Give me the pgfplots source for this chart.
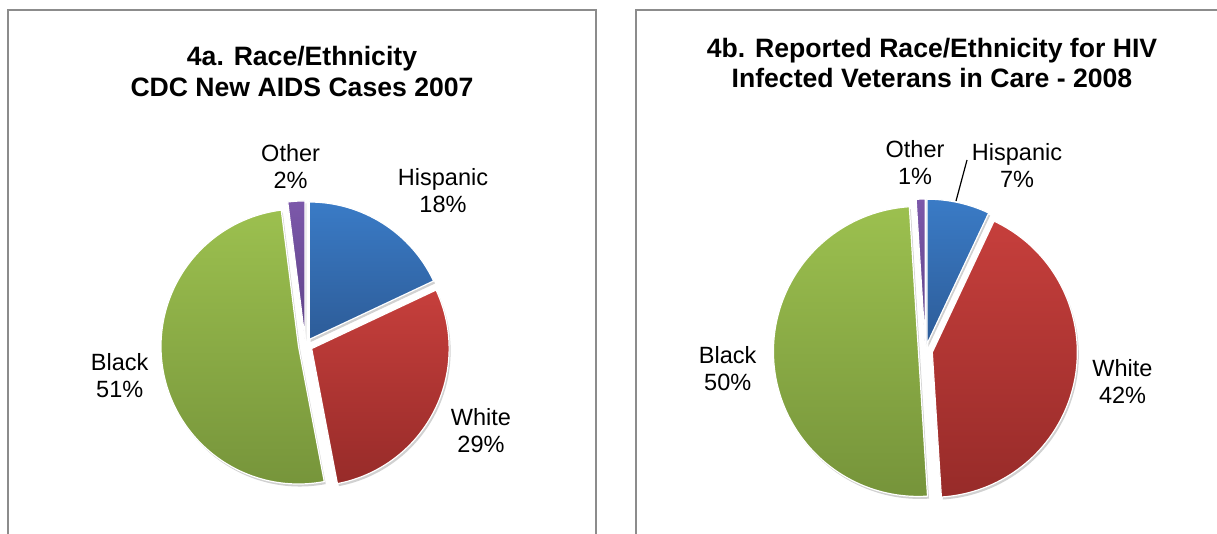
\documentclass[border=0pt]{standalone}
\usepackage{pgfplots}
\pgfplotsset{compat=1.18}
\usepackage{pgfplotstable}
\usepackage{fontspec}
\setmainfont{Liberation Sans}
\definecolor{top0}{HTML}{3A7BC6}
\definecolor{bot0}{HTML}{2D5C98}
\definecolor{top1}{HTML}{C63F3C}
\definecolor{bot1}{HTML}{972B29}
\definecolor{top2}{HTML}{9CC04F}
\definecolor{bot2}{HTML}{75933A}
\definecolor{top3}{HTML}{7C58AA}
\definecolor{bot3}{HTML}{5E4287}
\definecolor{boxgray}{HTML}{8C8C8C}

\pgfplotstableread{
name value
Hispanic 18
White 29
Black 51
Other 2
}\tableA
\pgfplotstableread{
name value
Hispanic 7
White 42
Black 50
Other 1
}\tableB

% #1 table, #2 cx, #3 cy, #4 radius, #5 explode, #6 mode (0 shadow, 1 slice)
\newcommand\drawpie[6]{%
  \def\cum{0}%
  \pgfplotsforeachungrouped \i in {0,...,3}{%
    \pgfplotstablegetelem{\i}{value}\of#1%
    \let\v=\pgfplotsretval
    \pgfmathsetmacro\sa{90-3.6*\cum}%
    \pgfmathsetmacro\ea{90-3.6*(\cum+\v)}%
    \pgfmathsetmacro\ma{(\sa+\ea)/2}%
    \pgfmathsetmacro\cum{\cum+\v}%
    \pgfmathsetmacro\ex{#2+#5*cos(\ma)}%
    \pgfmathsetmacro\ey{#3+#5*sin(\ma)}%
    \ifnum#6=0
      \edef\temp{\noexpand\fill[black, opacity=0.18] ([shift={(1.5pt,-2.5pt)}]axis cs:\ex,\ey) -- ++(\sa:#4pt) arc[start angle=\sa, end angle=\ea, radius=#4pt] -- cycle;}%
    \else
      \edef\temp{\noexpand\shade[top color=top\i, bottom color=bot\i, draw=white, line width=1.2pt] (axis cs:\ex,\ey) -- ++(\sa:#4pt) arc[start angle=\sa, end angle=\ea, radius=#4pt] -- cycle;}%
    \fi
    \temp
  }%
}

\begin{document}
\begin{tikzpicture}[x=1pt,y=1pt]
\useasboundingbox (0,0) rectangle (1217,533);
\clip (0,0) rectangle (1217,533);
\fill[white] (0,0) rectangle (1217,533);
\draw[boxgray, line width=2pt] (7.5,-10) -- (7.5,523) -- (595.5,523) -- (595.5,-10);
\draw[boxgray, line width=2pt] (636,-10) -- (636,523) -- (1240,523);
\begin{axis}[x=1pt, y=1pt, xmin=0, xmax=1217, ymin=0, ymax=533,
  hide axis, clip=false, at={(0,0)}, anchor=south west, disabledatascaling]
  \drawpie{\tableA}{305.4}{187.6}{137.5}{7}{0}
  \drawpie{\tableA}{305.4}{187.6}{137.5}{7}{1}
  \drawpie{\tableB}{925.4}{182}{145}{7}{0}
  \drawpie{\tableB}{925.4}{182}{145}{7}{1}
  % titles
  \node[font=\fontsize{26.6}{30.5}\selectfont\bfseries, align=center] at (axis cs:302,461.6)
    {4a. Race/Ethnicity\\CDC New AIDS Cases 2007};
  \node[font=\fontsize{26.6}{30}\selectfont\bfseries, align=center] at (axis cs:932,470.5)
    {4b. Reported Race/Ethnicity for HIV\\Infected Veterans in Care - 2008};
  % labels left
  \node[font=\fontsize{23.5}{27}\selectfont, align=center] at (axis cs:290.6,366.1) {Other\\2\%};
  \node[font=\fontsize{23.5}{27}\selectfont, align=center] at (axis cs:443,342.6) {Hispanic\\18\%};
  \node[font=\fontsize{23.5}{27}\selectfont, align=center] at (axis cs:119.7,157.5) {Black\\51\%};
  \node[font=\fontsize{23.5}{27}\selectfont, align=center] at (axis cs:481,102) {White\\29\%};
  % labels right
  \node[font=\fontsize{23.5}{27}\selectfont, align=center] at (axis cs:915,370.2) {Other\\1\%};
  \node[font=\fontsize{23.5}{27}\selectfont, align=center] at (axis cs:1017,367.8) {Hispanic\\7\%};
  \node[font=\fontsize{23.5}{27}\selectfont, align=center] at (axis cs:727.7,164.3) {Black\\50\%};
  \node[font=\fontsize{23.5}{27}\selectfont, align=center] at (axis cs:1122.5,151.5) {White\\42\%};
  \draw[black, line width=1.2pt] (axis cs:967,373) -- (axis cs:956,332);
\end{axis}
\end{tikzpicture}
\end{document}
